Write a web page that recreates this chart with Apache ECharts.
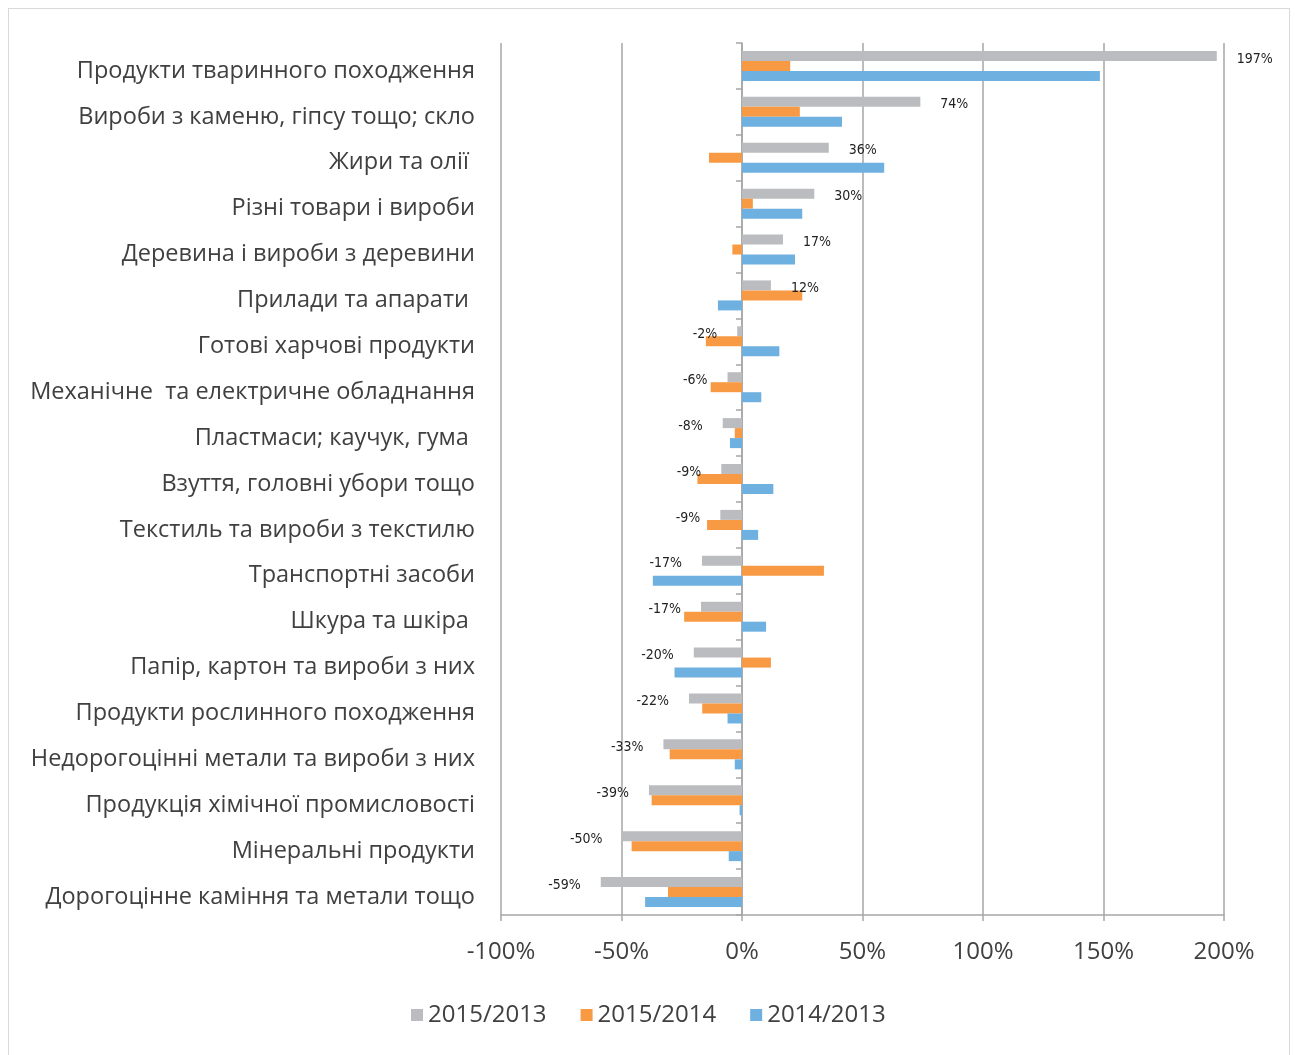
<!DOCTYPE html>
<html>
<head>
<meta charset="utf-8">
<script src="https://cdn.jsdelivr.net/npm/echarts@6/dist/echarts.min.js"></script>
<style>
  html, body { margin: 0; padding: 0; background: #fff; }
  #frame {
    position: absolute; left: 8px; top: 8px; width: 1282px; height: 1060px;
    border: 1px solid #d9d9d9; box-sizing: border-box;
  }
  #main { position: absolute; left: 0; top: 0; width: 1295px; height: 1055px; }
</style>
</head>
<body>
<div id="frame"></div>
<div id="main"></div>
<script>
// категорії товарів (зверху вниз)
var categories = [
  'Продукти тваринного походження',
  'Вироби з каменю, гіпсу тощо; скло',
  'Жири та олії ',
  'Різні товари і вироби',
  'Деревина і вироби з деревини',
  'Прилади та апарати ',
  'Готові харчові продукти',
  'Механічне  та електричне обладнання',
  'Пластмаси; каучук, гума ',
  'Взуття, головні убори тощо',
  'Текстиль та вироби з текстилю',
  'Транспортні засоби',
  'Шкура та шкіра ',
  'Папір, картон та вироби з них',
  'Продукти рослинного походження',
  'Недорогоцінні метали та вироби з них',
  'Продукція хімічної промисловості',
  'Мінеральні продукти',
  'Дорогоцінне каміння та метали тощо'
];
var seriesNames = ['2015/2013', '2015/2014', '2014/2013'];
var v2015_2013 = [197, 74, 36, 30, 17, 12, -2, -6, -8, -8.6, -9, -16.6, -17, -20, -22, -32.6, -38.6, -49.6, -58.6];
var v2015_2014 = [20, 24, -13.7, 4.5, -4, 25, -15, -13, -3, -18.5, -14.5, 34, -24, 12, -16.5, -30, -37.5, -45.8, -30.7];
var v2014_2013 = [148.5, 41.5, 59, 25, 22, -10, 15.5, 8, -5, 13, 6.7, -37, 10, -28, -6, -3, -1, -5.5, -40.2];
var xTicks = { min: -100, max: 200, interval: 50 };

var colors = ['#bbbcbf', '#f79a43', '#6eb0e0'];
var fontFamily = 'Open Sans, Noto Sans, sans-serif';

var chart = echarts.init(document.getElementById('main'));
chart.setOption({
  animation: false,
  color: colors,
  textStyle: { fontFamily: fontFamily },
  grid: { left: 501, right: 71, top: 43, bottom: 140, containLabel: false, outerBoundsMode: 'none' },
  legend: {
    bottom: 23,
    left: 406,
    itemWidth: 12,
    itemHeight: 12,
    itemGap: 34,
    icon: 'rect',
    textStyle: { fontSize: 24, color: '#404040', fontFamily: fontFamily },
    data: seriesNames
  },
  xAxis: {
    type: 'value',
    min: xTicks.min,
    max: xTicks.max,
    interval: xTicks.interval,
    axisLine: { show: true, lineStyle: { color: '#a6a6a6', width: 1.5 } },
    axisTick: { show: true, length: 6, lineStyle: { color: '#a6a6a6', width: 1.5 } },
    splitLine: { show: true, lineStyle: { color: '#a6a6a6', width: 1.5 } },
    axisLabel: {
      margin: 25,
      fontSize: 24,
      color: '#404040',
      formatter: function (v) { return v + '%'; }
    }
  },
  yAxis: {
    type: 'category',
    inverse: true,
    data: categories,
    axisLine: { show: true, onZero: true, lineStyle: { color: '#a6a6a6', width: 1.5 } },
    axisTick: { show: true, length: 6, lineStyle: { color: '#a6a6a6', width: 1.5 } },
    axisLabel: { margin: 26, fontSize: 23.5, color: '#404040', verticalAlign: 'top', lineHeight: 10 }
  },
  series: [
    {
      name: seriesNames[0],
      type: 'bar',
      barWidth: 10,
      barGap: '0%',
      // підписи для від'ємних значень — ліворуч від кінця стовпця
      data: v2015_2013.map(function (v) {
        return v < 0 ? { value: v, label: { position: 'left' } } : { value: v };
      }),
      label: {
        show: true,
        fontSize: 14,
        color: '#222',
        fontFamily: 'DejaVu Sans Condensed, Liberation Sans Narrow, sans-serif',
        distance: 20,
        position: 'right',
        offset: [0, 3],
        formatter: function (p) { return Math.round(p.value) + '%'; }
      }
    },
    { name: seriesNames[1], type: 'bar', data: v2015_2014, barWidth: 10, barGap: '0%' },
    { name: seriesNames[2], type: 'bar', data: v2014_2013, barWidth: 10, barGap: '0%' }
  ]
});
</script>
</body>
</html>
